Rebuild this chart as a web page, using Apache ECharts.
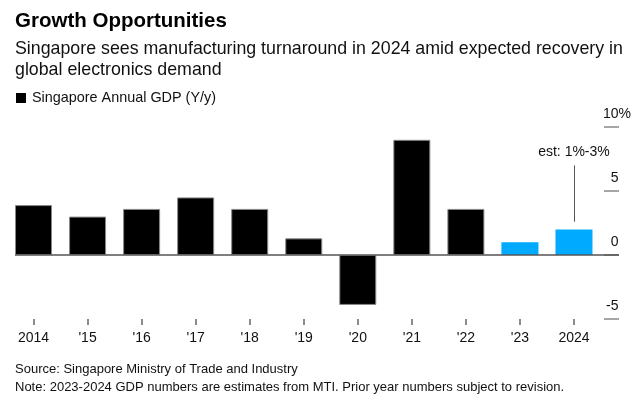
<!DOCTYPE html>
<html>
<head>
<meta charset="utf-8">
<script src="https://cdn.jsdelivr.net/npm/echarts@6/dist/echarts.min.js"></script>
<style>
html,body{margin:0;padding:0;background:#fff;}
#c{width:638px;height:407px;}
</style>
</head>
<body>
<div id="c"></div>
<script>
var categories = ['2014', "'15", "'16", "'17", "'18", "'19", "'20", "'21", "'22", "'23", '2024'];
var gdpValues = [3.9, 3.0, 3.6, 4.5, 3.6, 1.3, -3.9, 9.0, 3.6, 1.0, 2.0];
var isEstimate = [false, false, false, false, false, false, false, false, false, true, true];
var yTicks = { min: -5, max: 10, interval: 5 };
var annotation = { category: '2024', from: 2.6, to: 7.0, text: 'est: 1%-3%' };

var FONT = '"Liberation Sans", Arial, Helvetica, sans-serif';

var chart = echarts.init(document.getElementById('c'), null, { renderer: 'canvas' });

var seriesData = gdpValues.map(function (v, i) {
  return isEstimate[i]
    ? { value: v, itemStyle: { color: '#00AAFF', borderWidth: 0 } }
    : { value: v };
});

chart.setOption({
  animation: false,
  backgroundColor: '#fff',
  textStyle: { fontFamily: FONT },
  title: [
    { text: 'Growth Opportunities', left: 15, top: 11, padding: 0,
      textStyle: { fontFamily: FONT, fontSize: 20.5, fontWeight: 'bold', color: '#000' } },
    { text: 'Singapore sees manufacturing turnaround in 2024 amid expected recovery in\nglobal electronics demand',
      left: 15, top: 38.5, padding: 0,
      textStyle: { fontFamily: FONT, fontSize: 17.8, fontWeight: 'normal', color: '#111', lineHeight: 21 } },
    { text: 'Source: Singapore Ministry of Trade and Industry\nNote: 2023-2024 GDP numbers are estimates from MTI. Prior year numbers subject to revision.',
      left: 15, top: 361, padding: 0,
      textStyle: { fontFamily: FONT, fontSize: 13, fontWeight: 'normal', color: '#111', lineHeight: 17.5 } }
  ],
  legend: {
    left: 16, top: 91, padding: 0,
    icon: 'rect', itemWidth: 10, itemHeight: 10, itemGap: 5,
    itemStyle: { borderWidth: 0 },
    textStyle: { fontFamily: FONT, fontSize: 14.4, color: '#111', padding: [0, 0, 0, 1] },
    data: ['Singapore Annual GDP (Y/y)']
  },
  grid: { left: 6.5, right: 37, top: 127, bottom: 88, containLabel: false },
  xAxis: {
    type: 'category',
    data: categories,
    position: 'bottom',
    axisLine: { show: false, onZero: false },
    axisTick: { show: true, alignWithLabel: true, length: 6, lineStyle: { color: '#666', width: 1.5 } },
    axisLabel: { margin: 12, fontFamily: FONT, fontSize: 14, color: '#111' },
    splitLine: { show: false }
  },
  yAxis: {
    type: 'value',
    position: 'right',
    offset: 3,
    min: yTicks.min, max: yTicks.max, interval: yTicks.interval,
    axisLine: { show: false },
    axisTick: { show: true, length: 15, lineStyle: { color: '#888', width: 1.5 } },
    splitLine: { show: false },
    axisLabel: {
      margin: 27, align: 'right', verticalAlign: 'bottom', padding: [0, 0, 6, 0],
      fontFamily: FONT, fontSize: 14, color: '#111',
      formatter: function (v) { return v === yTicks.max ? v + '%' : v + '{h|%}'; },
      rich: { h: { color: 'rgba(0,0,0,0)', fontFamily: FONT, fontSize: 14 } }
    }
  },
  series: [{
    name: 'Singapore Annual GDP (Y/y)',
    type: 'bar',
    data: seriesData,
    barWidth: 37,
    itemStyle: { color: '#000', borderColor: '#888', borderWidth: 1 },
    markLine: {
      silent: true,
      symbol: ['none', 'none'],
      data: [
        [
          { x: 15, yAxis: 0, lineStyle: { color: '#555', width: 1.5, type: 'solid' }, label: { show: false } },
          { x: 619, yAxis: 0 }
        ],
        [
          { xAxis: annotation.category, yAxis: annotation.from,
            lineStyle: { color: '#555', width: 1, type: 'solid' },
            label: { show: true, position: 'end', distance: 6, formatter: annotation.text,
                     fontFamily: FONT, fontSize: 14, color: '#111' } },
          { xAxis: annotation.category, yAxis: annotation.to }
        ]
      ]
    }
  }]
});
</script>
</body>
</html>
